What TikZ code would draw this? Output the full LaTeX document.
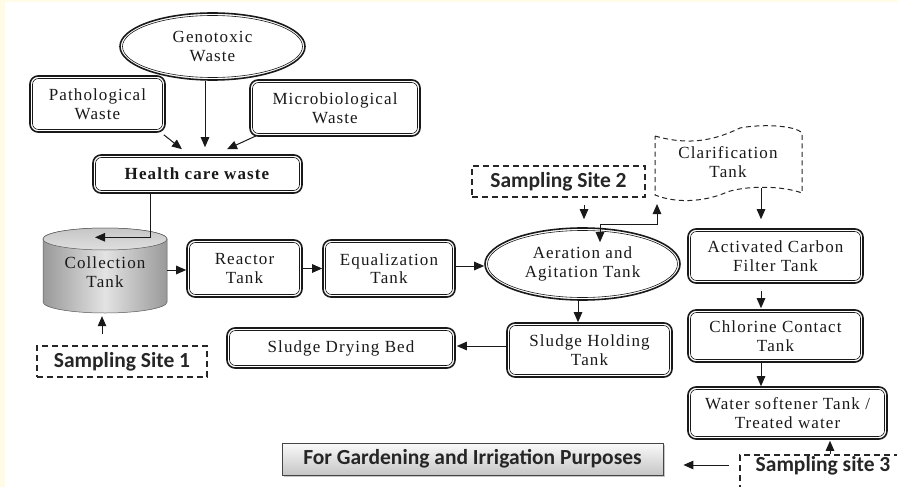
\documentclass[tikz,border=0pt]{standalone}
\usepackage{fontspec}
\setmainfont{Liberation Serif}[LetterSpace=6.5]
\newfontfamily\ssb{Carlito}
\usetikzlibrary{shapes.geometric,arrows.meta,calc,shadows}
\definecolor{cream}{HTML}{FFFBE6}
\tikzset{
  txt/.style={font=\fontsize{17}{18.5}\selectfont, text=black!90, align=center},
  outerb/.style={draw=black!90, line width=1.6pt, rounded corners=8pt, txt, inner sep=0pt},
  innerb/.style={draw=black!90, line width=0.6pt, rounded corners=6pt, inner sep=0pt},
  outere/.style={ellipse, draw=black!90, line width=1.6pt, txt, inner sep=0pt},
  innere/.style={ellipse, draw=black!90, line width=0.6pt, inner sep=0pt},
  tip/.tip={Triangle[length=10pt,width=8.5pt]},
  arr/.style={-tip, line width=1pt, draw=black!90},
  darr/.style={tip-tip, line width=1pt, draw=black!90},
  dashbox/.style={draw=black!85, line width=1.3pt, dash pattern=on 6pt off 4pt, inner sep=0pt},
  sstext/.style={font=\ssb\bfseries\fontsize{21.5}{24}\selectfont, text=black!85}
}
\newcommand\dbx[6]{%
  \node[outerb, minimum width=#4pt, minimum height=#5pt] (#1) at (#2,#3) {#6};
  \node[innerb, minimum width=#4pt-5pt, minimum height=#5pt-5pt] (#1i) at (#2,#3) {};
}
\newcommand\dell[6]{%
  \node[outere, minimum width=#4pt, minimum height=#5pt] (#1) at (#2,#3) {#6};
  \node[innere, minimum width=#4pt-5pt, minimum height=#5pt-5pt] (#1i) at (#2,#3) {};
}
\begin{document}
\begin{tikzpicture}[x=1pt,y=-1pt]
\useasboundingbox (0,0) rectangle (897,487);
\fill[cream] (0,0) rectangle (897,487);
\fill[white] (5,2) rectangle (897,487);

% top group
\dell{gen}{212.5}{46.5}{185}{67}{Genotoxic\\Waste}
\dbx{patho}{97.5}{104}{135}{56}{Pathological\\Waste}
\dbx{micro}{335}{108}{170}{56}{Microbiological\\Waste}
\dbx{hcw}{197.5}{174}{209}{38}{\textbf{Health care waste}}

% collection tank cylinder
\shade[left color=gray!80, right color=gray!80, middle color=gray!22, draw=gray!70!black, line width=0.5pt]
  (43,239) -- (43,302) arc[start angle=180, end angle=360, x radius=62pt, y radius=11pt]
  -- (167,239) arc[start angle=0, end angle=180, x radius=62pt, y radius=11pt] -- cycle;
\shade[top color=gray!45, bottom color=gray!25, draw=gray!70!black, line width=0.5pt]
  (105,239) ellipse[x radius=62pt, y radius=11pt];
\node[txt, minimum width=124pt, minimum height=85pt, inner sep=0pt] (coll) at (105,272) {Collection\\Tank};

\dbx{reactor}{244.5}{268.5}{115}{57}{Reactor\\Tank}
\dbx{equal}{389}{268.5}{132}{57}{Equalization\\Tank}
\dell{aer}{582.5}{264}{195}{72}{Aeration and\\Agitation Tank}
\dbx{acf}{775.5}{256}{175}{54}{Activated Carbon\\Filter Tank}
\dbx{ccl}{775.5}{336}{175}{52}{Chlorine Contact\\Tank}
\dbx{ws}{787.5}{413}{199}{52}{Water softener Tank /\\Treated water}
\dbx{shold}{589.5}{350}{165}{54}{Sludge Holding\\Tank}
\dbx{sdry}{341}{348}{228}{40}{Sludge Drying Bed}

% clarification tank (tape shape)
\draw[draw=black!85, line width=1pt, dash pattern=on 5pt off 3.5pt]
  (655,136) .. controls (690,146) and (715,140) .. (740,128)
  .. controls (760,124) and (795,125) .. (802,133)
  -- (802,193)
  .. controls (780,185) and (745,186) .. (727,192)
  .. controls (710,200) and (680,205) .. (655,195) -- cycle;
\node[txt] (clar) at (728,162) {Clarification\\Tank};
\coordinate (clarS) at (761,188);
\coordinate (clarB) at (657,204);

% sampling sites
\node[dashbox, sstext, minimum width=170pt, minimum height=31pt] (ss1) at (122,361.5) {Sampling Site 1};
\node[dashbox, sstext, minimum width=173pt, minimum height=31pt] (ss2) at (558.5,181.5) {Sampling Site 2};
\begin{scope}
\clip (0,0) rectangle (897,487);
\node[dashbox, minimum width=175pt, minimum height=40pt] (ss3) at (827.5,475) {};
\end{scope}
\node[sstext] (ss3t) at (823,466) {Sampling site 3};

% gardening box
\node[draw=gray!55!black, line width=0.8pt, top color=gray!4, bottom color=gray!45,
      drop shadow={shadow xshift=2pt, shadow yshift=-2pt, opacity=0.45},
      minimum width=381pt, minimum height=32pt, inner sep=0pt,
      font=\ssb\bfseries\fontsize{21.5}{24}\selectfont, text=black!85] (garden) at (472.5,459)
      {For Gardening and Irrigation Purposes};

% connectors
\draw[arr] ($(patho.south east)+(-2,2)$) -- ($(hcw.north)+(-15.5,-5)$);
\draw[arr] ($(gen.south)+(-7.5,0)$) -- ($(hcw.north)+(7.5,-7)$);
\draw[arr] ($(micro.south west)+(7,-1)$) -- ($(hcw.north)+(29.5,-5)$);
\draw[arr] ($(hcw.south)+(-47.5,0)$) |- ($(coll.north)+(-10,8)$);
\draw[arr] ($(ss1.north)+(-20,-11)$) -- ($(coll.south)+(-3,1.5)$);
\draw[arr] ($(coll.east)+(0,-2)$) -- ($(reactor.west)+(0,1.5)$);
\draw[arr] (reactor.east) -- (equal.west);
\draw[arr] ($(equal.east)+(0,-2.5)$) -- ($(aer.west)+(0,2)$);
\draw[arr] ($(ss2.south)+(25.5,7)$) -- ($(aer.north)+(1.5,-8)$);
\draw[darr] ($(aer.north)+(17.5,15)$) -- ++(0,-18) -| (clarB);
\draw[arr] (clarS) -- ($(acf.north)+(-14.5,-9)$);
\draw[arr] ($(acf.south)+(-14.5,7)$) -- ($(ccl.north)+(-14.5,-1)$);
\draw[arr] ($(ccl.south)+(-14.5,0)$) -- (ws.north -| clarS);
\draw[arr] ($(aer.south)+(-4.5,0)$) -- ($(shold.north)+(-11.5,0)$);
\draw[arr] ($(shold.west)+(0,-4)$) -- ($(sdry.east)+(1,-2)$);
\draw[arr] ($(ss3.north)+(2.5,0)$) -- ($(ws.south)+(42.5,1)$);
\draw[arr] ($(ss3.west)+(-10,-10)$) -- ($(garden.east)+(20,6)$);
\end{tikzpicture}
\end{document}
